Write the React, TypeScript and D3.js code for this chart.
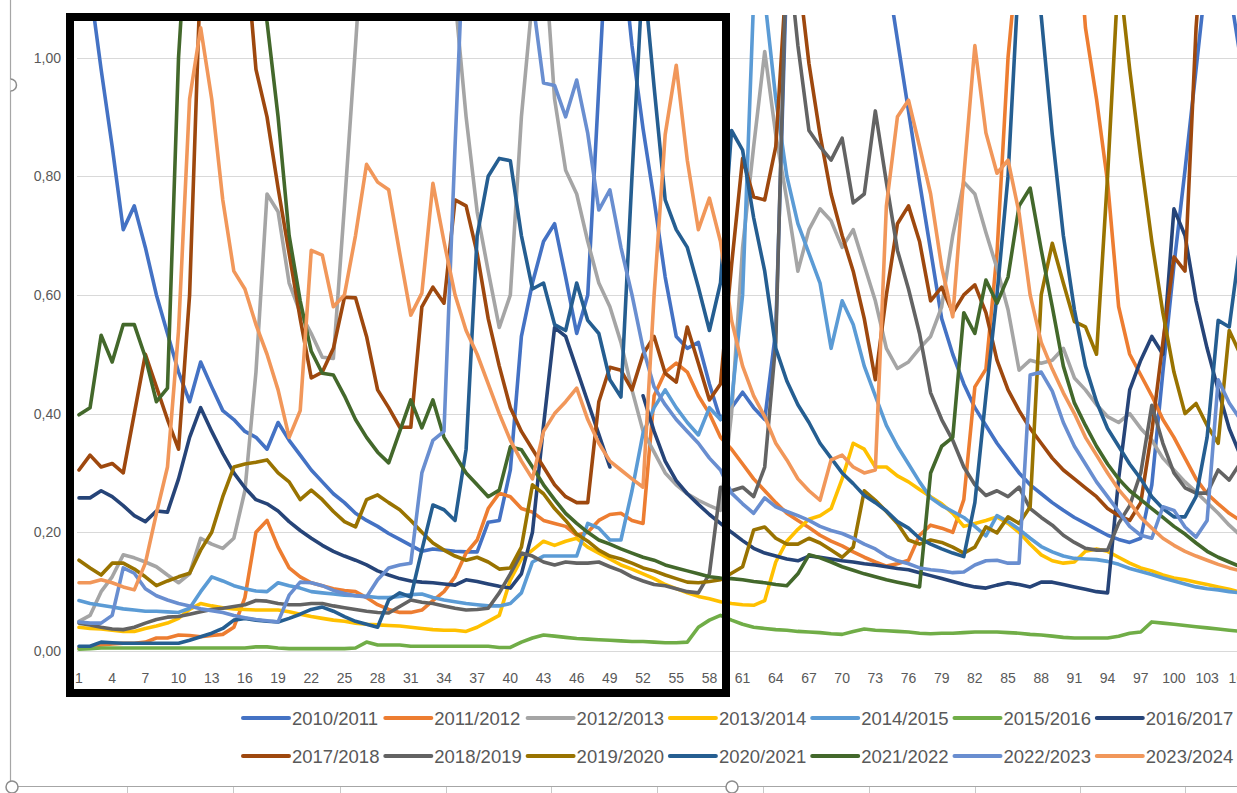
import React from "react";
import * as d3 from "d3";

const seriesNames = [
  "2010/2011", "2011/2012", "2012/2013", "2013/2014", "2014/2015", "2015/2016", "2016/2017",
  "2017/2018", "2018/2019", "2019/2020", "2020/2021", "2021/2022", "2022/2023", "2023/2024",
];

const seriesColors = [
  "#4472C4", "#ED7D31", "#A5A5A5", "#FFC000", "#5B9BD5", "#70AD47", "#264478",
  "#9E480E", "#636363", "#997300", "#255E91", "#43682B", "#698ED0", "#F1975A",
];

const s2010 = [1.3,1.12,0.98,0.85,0.71,0.75,0.68,0.6,0.535,0.47,
0.42,0.487,0.445,0.405,0.39,0.37,0.36,0.34,0.385,0.355,
0.33,0.305,0.285,0.265,0.25,0.232,0.22,0.21,0.198,0.188,
0.178,0.168,0.172,0.17,0.168,0.167,0.167,0.217,0.22,0.305,
0.53,0.62,0.69,0.72,0.63,0.535,0.6,0.95,1.3,1.2,
1.02,0.88,0.76,0.63,0.53,0.51,0.52,0.45,0.39,0.41,
0.436,0.41,0.39,0.54,1.15,1.3,1.3,1.3,1.3,1.3,
1.3,1.3,1.3,1.15,1.03,0.91,0.79,0.675,0.56,0.5,
0.45,0.41,0.38,0.35,0.325,0.3,0.28,0.265,0.25,0.237,
0.225,0.215,0.205,0.195,0.188,0.183,0.19,0.28,0.47,0.65,
0.81,0.98,1.15,1.25,1.12,1.0];

const s2011 = [0.005,0.007,0.01,0.012,0.013,0.013,0.015,0.022,0.022,0.027,
0.026,0.024,0.026,0.028,0.04,0.09,0.2,0.22,0.175,0.14,
0.125,0.115,0.11,0.105,0.102,0.1,0.09,0.078,0.07,0.065,
0.065,0.069,0.085,0.1,0.125,0.165,0.187,0.24,0.266,0.26,
0.24,0.234,0.22,0.215,0.21,0.195,0.2,0.22,0.23,0.232,
0.22,0.215,0.43,0.47,0.485,0.47,0.43,0.4,0.36,0.34,
0.315,0.29,0.27,0.25,0.232,0.22,0.208,0.195,0.185,0.177,
0.167,0.158,0.15,0.143,0.147,0.153,0.195,0.212,0.207,0.2,
0.255,0.445,0.475,0.67,1.0,1.2,1.3,1.3,1.3,1.3,
1.3,1.05,0.93,0.79,0.58,0.5,0.465,0.43,0.39,0.36,
0.325,0.29,0.265,0.248,0.232,0.22];

const s2012 = [0.05,0.06,0.1,0.125,0.162,0.157,0.15,0.142,0.128,0.115,
0.13,0.19,0.18,0.173,0.19,0.27,0.47,0.77,0.74,0.62,
0.57,0.535,0.495,0.493,0.75,1.02,1.3,1.3,1.3,1.3,
1.3,1.3,1.3,1.3,1.1,0.9,0.74,0.64,0.545,0.6,
0.9,1.1,1.2,0.93,0.81,0.77,0.69,0.62,0.58,0.52,
0.44,0.37,0.335,0.3,0.28,0.265,0.254,0.245,0.237,0.4,
0.68,0.85,1.01,0.87,0.76,0.64,0.71,0.745,0.725,0.68,
0.71,0.65,0.59,0.51,0.476,0.487,0.51,0.53,0.58,0.7,
0.79,0.77,0.705,0.645,0.575,0.473,0.49,0.485,0.49,0.51,
0.46,0.44,0.415,0.395,0.385,0.4,0.375,0.355,0.325,0.305,
0.285,0.268,0.25,0.232,0.212,0.195];

const s2013 = [0.04,0.038,0.037,0.035,0.033,0.033,0.038,0.042,0.047,0.055,
0.07,0.08,0.076,0.073,0.071,0.07,0.069,0.069,0.069,0.066,
0.062,0.058,0.055,0.052,0.05,0.047,0.045,0.044,0.043,0.042,
0.04,0.038,0.036,0.035,0.035,0.033,0.04,0.05,0.06,0.12,
0.155,0.17,0.185,0.178,0.185,0.19,0.175,0.165,0.155,0.145,
0.138,0.13,0.122,0.112,0.105,0.098,0.092,0.088,0.083,0.08,
0.078,0.077,0.085,0.15,0.185,0.205,0.222,0.228,0.24,0.29,
0.35,0.34,0.31,0.31,0.295,0.285,0.272,0.26,0.248,0.232,
0.21,0.215,0.22,0.226,0.215,0.2,0.18,0.162,0.152,0.148,
0.15,0.168,0.172,0.168,0.158,0.148,0.14,0.135,0.128,0.123,
0.12,0.116,0.112,0.108,0.104,0.099];

const s2014 = [0.085,0.08,0.077,0.074,0.071,0.069,0.067,0.067,0.066,0.065,
0.072,0.1,0.125,0.118,0.11,0.105,0.101,0.1,0.115,0.11,
0.106,0.1,0.098,0.096,0.094,0.093,0.092,0.09,0.09,0.092,
0.095,0.096,0.09,0.086,0.083,0.08,0.078,0.076,0.076,0.08,
0.098,0.15,0.16,0.16,0.16,0.16,0.215,0.207,0.187,0.187,
0.27,0.367,0.41,0.44,0.41,0.385,0.364,0.41,0.39,0.42,
0.6,1.1,1.1,0.93,0.8,0.72,0.67,0.62,0.51,0.59,
0.55,0.48,0.43,0.38,0.345,0.315,0.285,0.258,0.245,0.235,
0.225,0.21,0.194,0.228,0.218,0.205,0.19,0.176,0.167,0.16,
0.156,0.155,0.154,0.151,0.146,0.139,0.134,0.129,0.123,0.118,
0.113,0.108,0.105,0.103,0.1,0.098];

const s2015 = [0.003,0.004,0.005,0.005,0.005,0.005,0.005,0.005,0.005,0.005,
0.005,0.005,0.005,0.005,0.005,0.005,0.007,0.007,0.005,0.004,
0.004,0.004,0.004,0.004,0.004,0.005,0.015,0.01,0.01,0.01,
0.008,0.008,0.008,0.008,0.008,0.008,0.008,0.008,0.006,0.006,
0.015,0.022,0.027,0.025,0.023,0.021,0.02,0.019,0.018,0.017,
0.016,0.016,0.015,0.014,0.014,0.015,0.04,0.052,0.06,0.052,
0.045,0.04,0.038,0.036,0.035,0.033,0.032,0.031,0.029,0.028,
0.033,0.037,0.035,0.034,0.033,0.032,0.03,0.029,0.03,0.03,
0.031,0.032,0.032,0.032,0.031,0.03,0.028,0.027,0.025,0.023,
0.022,0.022,0.022,0.022,0.025,0.03,0.032,0.049,0.047,0.045,
0.043,0.041,0.039,0.037,0.035,0.033];

const s2016 = [0.258,0.258,0.27,0.26,0.245,0.228,0.218,0.236,0.234,0.29,
0.36,0.41,0.37,0.333,0.3,0.275,0.255,0.248,0.236,0.218,
0.203,0.19,0.178,0.168,0.16,0.153,0.145,0.135,0.128,0.122,
0.118,0.116,0.115,0.113,0.111,0.12,0.117,0.113,0.109,0.106,
0.13,0.2,0.38,0.545,0.53,0.475,0.42,0.365,0.31,null,
null,0.43,0.37,0.32,0.287,0.265,0.247,0.23,0.215,0.2,
0.186,0.173,0.165,0.16,0.155,0.152,0.16,0.158,0.155,0.152,
0.15,0.147,0.145,0.142,0.139,0.137,0.132,0.127,0.122,0.117,
0.112,0.108,0.106,0.111,0.115,0.112,0.108,0.116,0.116,0.112,
0.108,0.104,0.1,0.098,0.29,0.44,0.49,0.53,0.5,0.745,
0.7,0.59,0.51,0.44,0.375,0.33];

const s2017 = [0.305,0.33,0.31,0.316,0.3,0.4,0.5,0.445,0.39,0.34,
0.6,1.15,1.3,1.3,1.3,1.2,0.98,0.9,0.78,0.67,
0.56,0.46,0.47,0.51,0.596,0.595,0.53,0.44,0.41,0.377,
0.377,0.58,0.613,0.586,0.76,0.75,0.67,0.56,0.48,0.41,
0.37,0.34,0.31,0.28,0.26,0.25,0.25,0.42,0.478,0.473,
0.44,0.5,0.53,0.468,0.453,0.546,0.485,0.423,0.45,0.65,
0.83,0.765,0.76,0.85,1.15,1.15,0.99,0.87,0.77,0.7,
0.64,0.56,0.457,0.6,0.72,0.75,0.69,0.59,0.613,0.57,
0.6,0.617,0.57,0.49,0.44,0.405,0.375,0.35,0.325,0.305,
0.29,0.275,0.26,0.24,0.228,0.22,0.25,0.37,0.52,0.664,
0.64,1.05,1.3,1.3,1.3,1.3];

const s2018 = [0.047,0.044,0.04,0.037,0.036,0.04,0.047,0.053,0.057,0.058,
0.062,0.066,0.07,0.072,0.075,0.078,0.085,0.084,0.08,0.078,
0.078,0.08,0.08,0.076,0.073,0.07,0.067,0.065,0.064,0.075,
0.086,0.082,0.08,0.076,0.072,0.069,0.07,0.072,0.098,0.13,
0.165,0.16,0.15,0.145,0.15,0.148,0.148,0.15,0.142,0.135,
0.125,0.118,0.112,0.11,0.105,0.1,0.098,0.13,0.276,0.27,
0.276,0.26,0.31,0.52,1.2,1.02,0.877,0.85,0.827,0.864,
0.755,0.77,0.91,0.79,0.675,0.61,0.535,0.435,0.39,0.355,
0.31,0.28,0.262,0.27,0.26,0.276,0.24,0.225,0.212,0.195,
0.183,0.173,0.17,0.17,0.215,0.245,0.3,0.414,0.35,0.3,
0.275,0.266,0.266,0.305,0.288,0.317];

const s2019 = [0.153,0.14,0.128,0.148,0.148,0.138,0.125,0.11,0.118,0.125,
0.131,0.17,0.2,0.26,0.31,0.315,0.318,0.322,0.3,0.285,
0.255,0.271,0.255,0.235,0.218,0.209,0.255,0.263,0.25,0.238,
0.22,0.2,0.182,0.17,0.16,0.153,0.158,0.15,0.138,0.14,
0.175,0.28,0.265,0.24,0.22,0.197,0.185,0.17,0.16,0.155,
0.148,0.14,0.135,0.128,0.122,0.116,0.115,0.117,0.12,0.131,
0.142,0.204,0.209,0.19,0.18,0.18,0.19,0.182,0.17,0.158,
0.175,0.27,0.254,0.235,0.215,0.187,0.18,0.187,0.183,0.175,
0.165,0.175,0.209,0.199,0.226,0.215,0.243,0.6,0.687,0.62,
0.555,0.546,0.5,0.8,1.15,0.98,0.83,0.69,0.57,0.47,
0.4,0.417,0.38,0.35,0.54,0.5];

const s2020 = [0.008,0.008,0.015,0.014,0.013,0.013,0.013,0.013,0.013,0.013,
0.018,0.024,0.03,0.038,0.052,0.055,0.052,0.05,0.049,0.055,
0.062,0.07,0.074,0.067,0.058,0.05,0.045,0.04,0.086,0.098,
0.091,0.17,0.246,0.238,0.22,0.34,0.7,0.8,0.83,0.826,
0.7,0.61,0.62,0.55,0.54,0.62,0.557,0.535,0.457,0.428,
0.8,1.15,0.95,0.76,0.71,0.68,0.613,0.54,0.62,0.877,
0.844,0.73,0.64,0.51,0.455,0.415,0.385,0.35,0.325,0.3,
0.282,0.262,0.25,0.236,0.218,0.207,0.19,0.18,0.172,0.165,
0.159,0.25,0.43,0.6,0.8,1.15,1.2,1.07,0.87,0.7,
0.575,0.48,0.42,0.375,0.345,0.315,0.29,0.26,0.24,0.226,
0.226,0.26,0.36,0.557,0.546,0.687];

const s2021 = [0.398,0.41,0.532,0.487,0.55,0.55,0.495,0.42,0.443,1.0,
1.3,1.3,1.3,1.3,1.3,1.3,1.3,1.06,0.9,0.7,
0.59,0.505,0.468,0.465,0.43,0.39,0.36,0.335,0.317,0.37,
0.423,0.376,0.423,0.36,0.33,0.3,0.28,0.26,0.271,0.344,
0.339,0.31,0.28,0.255,0.232,0.215,0.2,0.187,0.18,0.172,
0.165,0.158,0.153,0.145,0.14,0.135,0.13,0.125,0.123,0.122,
0.12,0.117,0.115,0.112,0.11,0.13,0.162,0.157,0.15,0.142,
0.136,0.13,0.125,0.12,0.116,0.112,0.108,0.3,0.345,0.36,
0.57,0.535,0.625,0.586,0.63,0.75,0.78,0.676,0.58,0.48,
0.418,0.38,0.345,0.315,0.29,0.27,0.255,0.24,0.225,0.21,
0.197,0.182,0.168,0.158,0.15,0.142];

const s2022 = [0.049,0.047,0.047,0.06,0.14,0.131,0.105,0.093,0.086,0.08,
0.076,0.071,0.068,0.065,0.06,0.056,0.053,0.051,0.049,0.094,
0.116,0.115,0.11,0.102,0.097,0.093,0.091,0.12,0.14,0.145,
0.148,0.3,0.355,0.37,0.85,1.3,1.3,1.3,1.3,1.3,
1.3,1.1,0.957,0.953,0.9,0.962,0.872,0.743,0.777,0.68,
0.6,0.51,0.445,0.415,0.39,0.37,0.35,0.325,0.305,0.266,
0.248,0.232,0.258,0.243,0.235,0.228,0.22,0.21,0.203,0.198,
0.19,0.18,0.172,0.16,0.152,0.147,0.14,0.137,0.135,0.132,
0.133,0.145,0.152,0.153,0.148,0.148,0.465,0.47,0.438,0.385,
0.345,0.315,0.285,0.26,0.235,0.21,0.195,0.19,0.243,0.237,
0.209,0.192,0.22,0.457,0.418,0.39];

const s2023 = [0.115,0.115,0.12,0.115,0.108,0.103,0.148,0.232,0.31,0.54,
0.93,1.05,0.93,0.76,0.64,0.61,0.55,0.5,0.44,0.36,
0.405,0.675,0.667,0.58,0.6,0.7,0.82,0.79,0.777,0.67,
0.566,0.603,0.788,0.69,0.6,0.54,0.5,0.45,0.4,0.355,
0.32,0.29,0.37,0.4,0.42,0.443,0.39,0.35,0.32,0.305,
0.29,0.276,0.6,0.87,0.987,0.827,0.71,0.763,0.69,0.557,
0.48,0.43,0.395,0.35,0.322,0.29,0.27,0.254,0.322,0.33,
0.31,0.3,0.305,0.75,0.9,0.928,0.85,0.77,0.647,0.563,
0.8,1.02,0.873,0.805,0.827,0.738,0.6,0.52,0.475,0.435,
0.4,0.36,0.33,0.3,0.272,0.25,0.225,0.207,0.19,0.178,
0.168,0.16,0.153,0.146,0.14,0.135];

const seriesValues = [s2010, s2011, s2012, s2013, s2014, s2015, s2016, s2017, s2018, s2019, s2020, s2021, s2022, s2023];

const weekLabels = d3.range(1, 107, 3);
const yTicks = [0, 0.2, 0.4, 0.6, 0.8, 1.0];

const W = 1237;
const H = 793;
const FONT = "'Liberation Sans', Arial, sans-serif";
const TEXT = "#595959";

export default function App() {
  const x = d3.scaleLinear().domain([1, 106]).range([79, 79 + 105 * 11.06]);
  const y = d3.scaleLinear().domain([0, 1]).range([651, 57.5]);
  const fmt = d3.formatLocale({ decimal: ",", thousands: ".", grouping: [3], currency: ["", ""] }).format(".2f");

  const line = d3
    .line<number | null>()
    .defined((d) => d !== null)
    .x((_, i) => x(i + 1))
    .y((d) => y(d as number));

  const legendX0 = 243;
  const legendStep = 142.3;

  return (
    <svg width={W} height={H} style={{ position: "absolute", left: 0, top: 0, background: "#fff" }} fontFamily={FONT}>
      <defs>
        <clipPath id="plotClip">
          <rect x={0} y={15} width={W} height={690} />
        </clipPath>
      </defs>
      <rect x={0} y={0} width={W} height={H} fill="#fff" />

      {/* chart frame remnants */}
      <line x1={10.5} y1={0} x2={10.5} y2={793} stroke="#A6A6A6" strokeWidth={1.2} />
      <line x1={10} y1={786.5} x2={W} y2={786.5} stroke="#A6A6A6" strokeWidth={1.2} />
      {[127, 233, 340, 446, 551, 657, 763, 869, 975, 1080, 1185].map((t) => (
        <line key={t} x1={t + 0.5} y1={787} x2={t + 0.5} y2={793} stroke="#C8C8C8" strokeWidth={1} />
      ))}

      {/* gridlines */}
      {yTicks.map((t) => (
        <line key={t} x1={77} x2={W} y1={Math.round(y(t)) + 0.5} y2={Math.round(y(t)) + 0.5} stroke="#D9D9D9" strokeWidth={1.2} />
      ))}

      {/* y labels */}
      {yTicks.map((t) => (
        <text key={t} x={61} y={y(t) + 5} textAnchor="end" fontSize={14} fill={TEXT}>
          {fmt(t)}
        </text>
      ))}

      {/* x labels */}
      {weekLabels.map((w) => (
        <text key={w} x={x(w)} y={683} textAnchor="middle" fontSize={14} fill={TEXT}>
          {w}
        </text>
      ))}

      {/* series */}
      <g clipPath="url(#plotClip)">
        {seriesValues.map((vals, i) => (
          <path
            key={seriesNames[i]}
            d={line(vals) || ""}
            fill="none"
            stroke={seriesColors[i]}
            strokeWidth={3.6}
            strokeLinejoin="round"
            strokeLinecap="round"
          />
        ))}
      </g>

      {/* highlight box */}
      <rect x={70} y={17} width={656} height={676} fill="none" stroke="#000" strokeWidth={8} />

      {/* legend */}
      {seriesNames.map((name, i) => {
        const row = Math.floor(i / 7);
        const col = i % 7;
        const lx = legendX0 + col * legendStep;
        const ly = 718 + row * 38;
        return (
          <g key={name}>
            <line x1={lx} x2={lx + 46} y1={ly} y2={ly} stroke={seriesColors[i]} strokeWidth={4} strokeLinecap="round" />
            <text x={lx + 49} y={ly + 6.5} fontSize={18.5} fill={TEXT}>
              {name}
            </text>
          </g>
        );
      })}

      {/* selection handles */}
      <path d="M10.5,79 A6,6 0 0 1 10.5,91" fill="#fff" stroke="#8C8C8C" strokeWidth={1.5} />
      <circle cx={12} cy={787} r={6} fill="#fff" stroke="#8C8C8C" strokeWidth={1.5} />
      <circle cx={732} cy={787} r={6} fill="#fff" stroke="#8C8C8C" strokeWidth={1.5} />
    </svg>
  );
}
